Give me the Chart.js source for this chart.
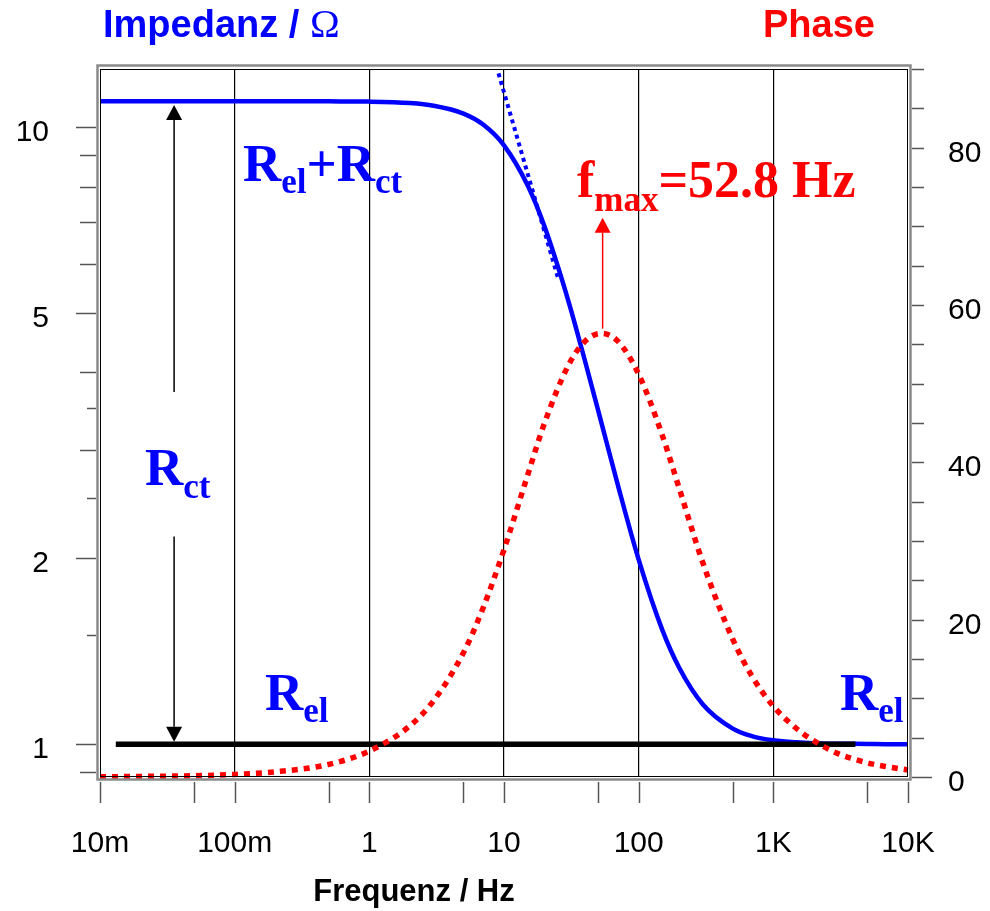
<!DOCTYPE html>
<html>
<head>
<meta charset="utf-8">
<script src="https://cdn.jsdelivr.net/npm/chart.js@4.4.1/dist/chart.umd.min.js"></script>
<style>
  html, body { margin: 0; padding: 0; background: #fff; }
</style>
</head>
<body>
<canvas id="bode" width="990" height="911"></canvas>
<script>
const frequenzen = [0.01, 0.02, 0.05, 0.1, 0.2, 0.5, 1, 2, 3, 5, 7, 10, 15, 20, 30, 40, 52.8, 70, 100, 150, 200, 300, 500, 700, 1000, 1500, 2000, 3000, 5000, 7000, 10000];
const impedanz = [11.0, 11.0, 11.0, 11.0, 11.0, 10.99, 10.98, 10.92, 10.81, 10.5, 10.08, 9.33, 8.03, 6.89, 5.23, 4.17, 3.32, 2.63, 1.99, 1.53, 1.33, 1.16, 1.06, 1.03, 1.015, 1.007, 1.004, 1.002, 1.001, 1.0, 1.0];
const phase = [0.03, 0.07, 0.16, 0.33, 0.65, 1.6, 3.3, 6.5, 9.7, 15.8, 21.5, 28.9, 38.4, 45.0, 52.3, 55.4, 56.4, 55.4, 51.2, 43.4, 36.7, 27.2, 17.5, 12.7, 9.0, 6.1, 4.6, 3.0, 1.8, 1.3, 0.9];

// Tangente (gepunktet) und Linie bei R_el
const tangenteF = [9.1, 25.4];
const tangenteZ = [12.2, 5.65];
const relF = [0.0131, 4070];
const relZ = [1, 1];

// Achsen
const xDekaden = [0.01, 0.1, 1, 10, 100, 1000, 10000];
const xBeschriftung = ["10m", "100m", "1", "10", "100", "1K", "10K"];
const xStriche = [0.01, 0.05, 0.1, 0.5, 1, 5, 10, 50, 100, 500, 1000, 5000, 10000];
const yWerte = [1, 2, 5, 10];
const yBeschriftung = ["1", "2", "5", "10"];
const yMittel = [0.9, 3, 4, 6, 7, 8, 9];
const yKurz = [1.5, 2.5, 3.5];
const phaseWerte = [0, 20, 40, 60, 80];
const phaseStriche = [0, 5, 10, 15, 20, 25, 30, 35, 40, 45, 50, 55, 60, 65, 70, 75, 80, 85, 90];

// Pfeile (in Datenkoordinaten)
const pfeilRctF = 0.0355;
const pfeilRctOben = [3.72, 10.84];
const pfeilRctUnten = [2.17, 1.009];
const pfeilFmaxF = 54;
const pfeilFmaxPhase = [57.0, 71.1];

const pts = (xs, ys) => xs.map((x, i) => ({ x, y: ys[i] }));

const SANS = '"Liberation Sans", Arial, sans-serif';
const SERIF = '"Liberation Serif", "Times New Roman", serif';

function pfeil(ctx, x, y0, y1, farbe, lw) {
  const dir = y1 < y0 ? -1 : 1;
  const kopf = 15, halb = 8;
  ctx.save();
  ctx.strokeStyle = farbe;
  ctx.fillStyle = farbe;
  ctx.lineWidth = lw;
  ctx.beginPath();
  ctx.moveTo(x, y0);
  ctx.lineTo(x, y1 - dir * kopf);
  ctx.stroke();
  ctx.beginPath();
  ctx.moveTo(x, y1);
  ctx.lineTo(x - halb, y1 - dir * kopf);
  ctx.lineTo(x + halb, y1 - dir * kopf);
  ctx.closePath();
  ctx.fill();
  ctx.restore();
}

function text(ctx, x, y, teile, farbe) {
  ctx.save();
  ctx.fillStyle = farbe;
  ctx.textBaseline = "alphabetic";
  ctx.textAlign = "left";
  teile.forEach((t) => {
    ctx.font = t.font;
    ctx.fillText(t.s, x, y + (t.dy || 0));
    x += ctx.measureText(t.s).width;
  });
  ctx.restore();
}

const rahmen = {
  id: "rahmen",
  afterDatasetsDraw(chart) {
    const { ctx, chartArea: a, scales } = chart;
    const sx = scales.x, sy = scales.y, sp = scales.y2;

    // Pfeile
    const xr = sx.getPixelForValue(pfeilRctF);
    pfeil(ctx, xr, sy.getPixelForValue(pfeilRctOben[0]), sy.getPixelForValue(pfeilRctOben[1]), "#000", 1.5);
    pfeil(ctx, xr, sy.getPixelForValue(pfeilRctUnten[0]), sy.getPixelForValue(pfeilRctUnten[1]), "#000", 1.5);
    pfeil(ctx, sx.getPixelForValue(pfeilFmaxF), sp.getPixelForValue(pfeilFmaxPhase[0]), sp.getPixelForValue(pfeilFmaxPhase[1]), "#ff0000", 1.5);

    // Rahmen: grau aussen, schwarz innen
    ctx.save();
    ctx.strokeStyle = "#8a8a8a";
    ctx.lineWidth = 2.5;
    ctx.strokeRect(a.left - 2.5, a.top - 3.5, a.width + 5, a.height + 6);
    ctx.strokeStyle = "#000";
    ctx.lineWidth = 1;
    ctx.strokeRect(a.left + 0.5, a.top + 0.5, a.width - 1, a.height - 1);

    // Striche
    ctx.strokeStyle = "#555";
    ctx.lineWidth = 1.5;
    const links = a.left - 4;
    const strichY = (v, len) => {
      const y = Math.round(sy.getPixelForValue(v)) + 0.5;
      ctx.beginPath(); ctx.moveTo(links - len, y); ctx.lineTo(links, y); ctx.stroke();
    };
    yWerte.forEach((v) => strichY(v, 20));
    yMittel.forEach((v) => strichY(v, 16));
    yKurz.forEach((v) => strichY(v, 9));

    const rechts = a.right + 4;
    phaseStriche.forEach((v) => {
      const y = Math.round(sp.getPixelForValue(v)) + 0.5;
      const len = v === 0 ? 20 : 12;
      ctx.beginPath(); ctx.moveTo(rechts, y); ctx.lineTo(rechts + len, y); ctx.stroke();
    });

    const unten = a.bottom + 5;
    xStriche.forEach((v) => {
      const x = Math.round(sx.getPixelForValue(v)) + 0.5;
      ctx.beginPath(); ctx.moveTo(x, unten); ctx.lineTo(x, unten + 21); ctx.stroke();
    });

    // Beschriftungen
    ctx.fillStyle = "#000";
    ctx.font = "30px " + SANS;
    ctx.textBaseline = "alphabetic";
    ctx.textAlign = "right";
    yWerte.forEach((v, i) => ctx.fillText(yBeschriftung[i], 49, sy.getPixelForValue(v) + 14));
    ctx.textAlign = "left";
    phaseWerte.forEach((v) => ctx.fillText(String(v), 948, sp.getPixelForValue(v) + 14));
    ctx.textAlign = "center";
    xDekaden.forEach((v, i) => ctx.fillText(xBeschriftung[i], sx.getPixelForValue(v), 852));

    ctx.font = "bold 31px " + SANS;
    ctx.fillText("Frequenz / Hz", 414, 901);
    ctx.restore();

    // Titel
    text(ctx, 103, 37, [
      { s: "Impedanz / ", font: "bold 38px " + SANS },
      { s: "\u03A9", font: "40px " + SERIF },
    ], "#0000ff");
    text(ctx, 763, 37, [{ s: "Phase", font: "bold 38px " + SANS }], "#ff0000");

    const gross = "bold 53px " + SERIF, klein = "bold 35px " + SERIF;
    text(ctx, 243, 181, [
      { s: "R", font: gross }, { s: "el", font: klein, dy: 12 },
      { s: "+R", font: gross }, { s: "ct", font: klein, dy: 12 },
    ], "#0000ff");
    text(ctx, 145, 485, [{ s: "R", font: gross }, { s: "ct", font: klein, dy: 13 }], "#0000ff");
    text(ctx, 265, 710, [{ s: "R", font: gross }, { s: "el", font: klein, dy: 12 }], "#0000ff");
    text(ctx, 840, 710, [{ s: "R", font: gross }, { s: "el", font: klein, dy: 12 }], "#0000ff");
    text(ctx, 577, 197, [
      { s: "f", font: "bold 52px " + SERIF }, { s: "max", font: "bold 35px " + SERIF, dy: 14 },
      { s: "=52.8 Hz", font: "bold 52px " + SERIF },
    ], "#ff0000");
  },
};

new Chart(document.getElementById("bode"), {
  type: "line",
  data: {
    datasets: [
      {
        label: "Phase",
        data: pts(frequenzen, phase),
        yAxisID: "y2",
        borderColor: "#ff0000",
        borderWidth: 5.5,
        borderDash: [6, 6],
        cubicInterpolationMode: "monotone",
        pointRadius: 0,
        clip: 6,
      },
      {
        label: "R_el",
        data: pts(relF, relZ),
        yAxisID: "y",
        borderColor: "#000",
        borderWidth: 5.5,
        pointRadius: 0,
      },
      {
        label: "Tangente",
        data: pts(tangenteF, tangenteZ),
        yAxisID: "y",
        borderColor: "#0000ff",
        borderWidth: 4,
        borderDash: [4, 4],
        pointRadius: 0,
      },
      {
        label: "Impedanz",
        data: pts(frequenzen, impedanz),
        yAxisID: "y",
        borderColor: "#0000ff",
        borderWidth: 4.5,
        cubicInterpolationMode: "monotone",
        pointRadius: 0,
        clip: 4,
      },
    ],
  },
  options: {
    responsive: false,
    animation: false,
    devicePixelRatio: 1,
    layout: { padding: { top: 69, left: 0, right: 0, bottom: 0 } },
    plugins: { legend: { display: false }, tooltip: { enabled: false } },
    scales: {
      x: {
        type: "logarithmic",
        min: 0.01,
        max: 10000,
        afterBuildTicks: (s) => { s.ticks = xDekaden.map((v) => ({ value: v })); },
        afterFit: (s) => { s.height = 134; },
        ticks: { display: false },
        border: { display: false },
        grid: {
          drawTicks: false,
          lineWidth: 1.2,
          color: (c) => (c.tick && c.tick.value > 0.01 && c.tick.value < 10000 ? "#000" : "rgba(0,0,0,0)"),
        },
      },
      y: {
        type: "logarithmic",
        position: "left",
        min: 0.885,
        max: 12.4,
        afterFit: (s) => { s.width = 100; },
        ticks: { display: false },
        border: { display: false },
        grid: { display: false },
      },
      y2: {
        type: "linear",
        position: "right",
        min: 0,
        max: 90,
        afterFit: (s) => { s.width = 82; },
        ticks: { display: false },
        border: { display: false },
        grid: { display: false },
      },
    },
  },
  plugins: [rahmen],
});
</script>
</body>
</html>
